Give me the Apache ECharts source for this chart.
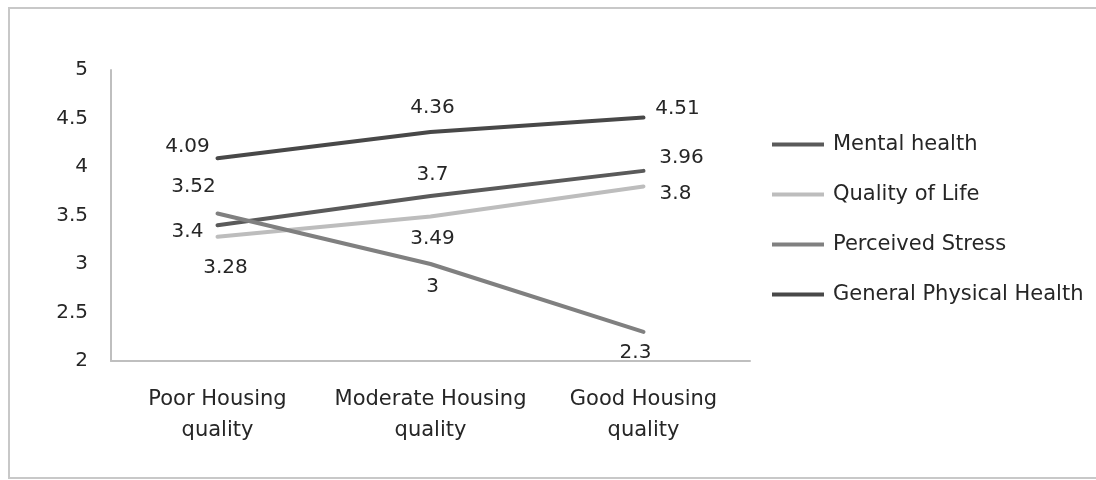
<!DOCTYPE html>
<html>
<head>
<meta charset="utf-8">
<script src="https://cdn.jsdelivr.net/npm/echarts@6/dist/echarts.min.js"></script>
<style>
  html, body { margin: 0; padding: 0; background: #fff; }
  #chart { width: 1096px; height: 480px; }
</style>
</head>
<body>
<div id="chart"></div>
<script>
// 数据
var categories = ['Poor Housing\nquality', 'Moderate Housing\nquality', 'Good Housing\nquality'];
var seriesNames = ['Mental health', 'Quality of Life', 'Perceived Stress', 'General Physical Health'];
var mentalHealth = [3.4, 3.7, 3.96];
var qualityOfLife = [3.28, 3.49, 3.8];
var perceivedStress = [3.52, 3, 2.3];
var physicalHealth = [4.09, 4.36, 4.51];
var yTicks = [2, 2.5, 3, 3.5, 4, 4.5, 5];

var values = [mentalHealth, qualityOfLife, perceivedStress, physicalHealth];
var colors = ['#5a5a5a', '#bdbdbd', '#808080', '#484848'];

// 每个数据标签的偏移 (Excel 风格的手动位置)
var labelOffsets = [
    [[-30, 7], [2, -21], [38, -13]],
    [[8, 31], [2, 22], [32, 7]],
    [[-24, -27], [2, 23], [-8, 21]],
    [[-30, -11], [2, -24], [34, -9]]
];

var fontFamily = '"DejaVu Sans", sans-serif';
var textColor = '#262626';

var myChart = echarts.init(document.getElementById('chart'));

var series = [];
for (var i = 0; i < seriesNames.length; i++) {
    var data = [];
    for (var j = 0; j < values[i].length; j++) {
        data.push({
            value: values[i][j],
            label: { offset: labelOffsets[i][j] }
        });
    }
    series.push({
        name: seriesNames[i],
        type: 'line',
        data: data,
        symbol: 'circle',
        symbolSize: 1,
        showSymbol: true,
        color: colors[i],
        lineStyle: { width: 4, color: colors[i], cap: 'round', join: 'round' },
        itemStyle: { color: colors[i] },
        label: {
            show: true,
            position: 'inside',
            fontFamily: fontFamily,
            fontSize: 20,
            color: textColor
        },
        emphasis: { disabled: true },
        animation: false
    });
}

var option = {
    animation: false,
    graphic: [{
        type: 'rect',
        shape: { x: 9, y: 8, width: 1100, height: 470 },
        style: { fill: 'none', stroke: '#c8c8c8', lineWidth: 2 },
        silent: true
    }],
    grid: {
        left: 111,
        right: 346,
        top: 70,
        bottom: 119
    },
    legend: {
        orient: 'vertical',
        left: 772,
        top: 134,
        padding: 0,
        itemGap: 29,
        itemWidth: 52,
        itemHeight: 4,
        icon: 'rect',
        data: seriesNames,
        textStyle: {
            fontFamily: fontFamily,
            fontSize: 21,
            lineHeight: 20,
            color: textColor,
            padding: [0, 0, 0, 4]
        }
    },
    xAxis: {
        type: 'category',
        data: categories,
        boundaryGap: true,
        axisLine: { lineStyle: { color: '#bfbfbf', width: 2 } },
        axisTick: { show: false },
        axisLabel: {
            interval: 0,
            margin: 23,
            fontFamily: fontFamily,
            fontSize: 21,
            lineHeight: 31,
            color: textColor
        }
    },
    yAxis: {
        type: 'value',
        min: yTicks[0],
        max: yTicks[yTicks.length - 1],
        interval: 0.5,
        axisLine: { show: true, lineStyle: { color: '#bfbfbf', width: 2 } },
        axisTick: { show: false },
        splitLine: { show: false },
        axisLabel: {
            margin: 23,
            fontFamily: fontFamily,
            fontSize: 20,
            color: textColor
        }
    },
    series: series
};

myChart.setOption(option);
</script>
</body>
</html>
